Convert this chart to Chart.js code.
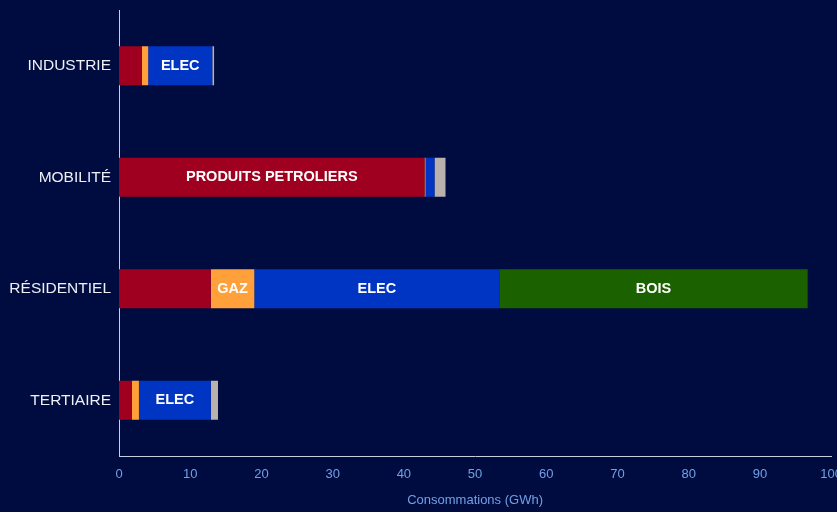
<!DOCTYPE html>
<html>
<head>
<meta charset="utf-8">
<script src="https://cdn.jsdelivr.net/npm/chart.js@4.4.1/dist/chart.umd.min.js"></script>
<style>
  html, body { margin: 0; padding: 0; background: #000c3f; overflow: hidden; }
  #wrap { position: relative; width: 845px; height: 512px; }
</style>
</head>
<body>
<div id="wrap"><canvas id="c"></canvas></div>
<script>
const categories = ['INDUSTRIE', 'MOBILITÉ', 'RÉSIDENTIEL', 'TERTIAIRE'];
const seriesNames = ['PRODUITS PETROLIERS', 'GAZ', 'ELEC', 'BOIS', 'AUTRES'];
const petrole = [3.2, 42.9, 12.9, 1.8];
const gaz = [0.9, 0.15, 6.1, 1.0];
const elec = [9.0, 1.25, 34.4, 10.1];
const bois = [0, 0, 43.3, 0];
const autres = [0.25, 1.55, 0, 1.0];
const xTicks = [0, 10, 20, 30, 40, 50, 60, 70, 80, 90, 100];
const colors = ['#a0001f', '#ffa03a', '#0035c4', '#1c6100', '#b8b1ad'];

const seriesValues = [petrole, gaz, elec, bois, autres];

const inBarLabels = {
  id: 'inBarLabels',
  afterDatasetsDraw(chart) {
    const ctx = chart.ctx;
    ctx.save();
    ctx.font = 'bold 14.5px "Liberation Sans", Arial, sans-serif';
    ctx.fillStyle = '#ffffff';
    ctx.textAlign = 'center';
    ctx.textBaseline = 'middle';
    chart.data.datasets.forEach((ds, i) => {
      const meta = chart.getDatasetMeta(i);
      meta.data.forEach((bar, j) => {
        const w = Math.abs(bar.x - bar.base);
        const tw = ctx.measureText(ds.label).width;
        if (ds.data[j] > 0 && tw + 10 < w) {
          ctx.fillText(ds.label, (bar.x + bar.base) / 2, bar.y);
        }
      });
    });
    ctx.restore();
  }
};

new Chart(document.getElementById('c'), {
  type: 'bar',
  data: {
    labels: categories,
    datasets: seriesNames.map((n, i) => ({
      label: n,
      data: seriesValues[i],
      backgroundColor: colors[i],
      borderWidth: 0,
      categoryPercentage: 1,
      barPercentage: 0.35
    }))
  },
  options: {
    indexAxis: 'y',
    responsive: true,
    maintainAspectRatio: false,
    animation: false,
    layout: { padding: { top: 10, right: 0, left: 0, bottom: 0 } },
    plugins: {
      legend: { display: false },
      tooltip: { enabled: false }
    },
    scales: {
      x: {
        stacked: true,
        min: 0,
        max: 100,
        afterBuildTicks: s => { s.ticks = xTicks.map(v => ({ value: v })); },
        grid: { display: false },
        border: { display: true, color: '#c9cde0', width: 1 },
        ticks: {
          color: '#70a0e6',
          font: { family: '"Liberation Sans", Arial, sans-serif', size: 13 },
          padding: 3
        },
        title: {
          display: true,
          text: 'Consommations (GWh)',
          color: '#70a0e6',
          font: { family: '"Liberation Sans", Arial, sans-serif', size: 13 },
          padding: { top: 4, bottom: 4 }
        },
        afterFit: s => { s.height = 56; }
      },
      y: {
        stacked: true,
        grid: { display: false },
        border: { display: true, color: '#c9cde0', width: 1 },
        ticks: {
          color: '#eef0f6',
          font: { family: '"Liberation Sans", Arial, sans-serif', size: 15.5 },
          padding: 0
        },
        afterFit: s => { s.width = 119; }
      }
    }
  },
  plugins: [inBarLabels]
});
</script>
</body>
</html>
